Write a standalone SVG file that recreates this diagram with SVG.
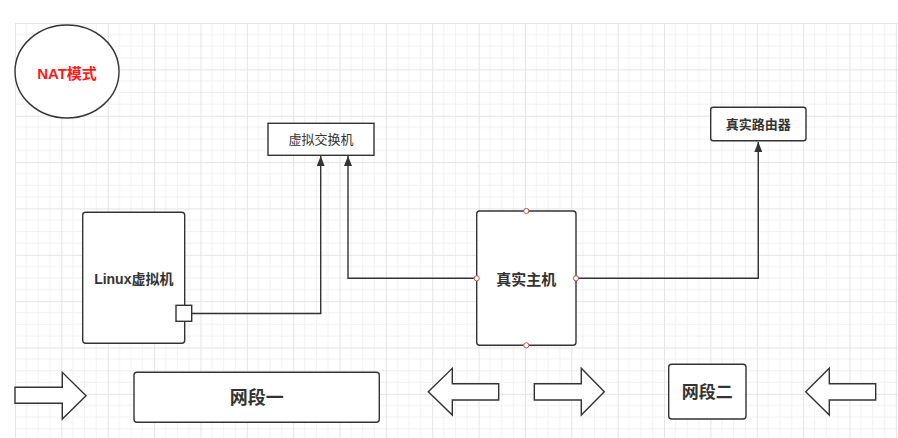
<svg xmlns="http://www.w3.org/2000/svg" width="898" height="438" viewBox="0 0 898 438">
<style>
.box{fill:#fff;stroke:#333;stroke-width:1.4}
.edge{fill:none;stroke:#333;stroke-width:1.4}
.big{fill:#fff;stroke:#333;stroke-width:1.4;stroke-linejoin:miter}
.t{font-family:"Liberation Sans","Noto Sans CJK SC",sans-serif;fill:#333;text-anchor:middle;dominant-baseline:central}
.port{fill:#fff;stroke:#b85450;stroke-width:1}
</style>
<defs>
<pattern id="grid" patternUnits="userSpaceOnUse" x="15" y="23" width="46.36" height="46.36">
<path d="M11.59 0V46.36M23.18 0V46.36M34.77 0V46.36M0 11.59H46.36M0 23.18H46.36M0 34.77H46.36" stroke="#f1f1f1" stroke-width="1" fill="none"/>
<path d="M0.5 0V46.36M0 0.5H46.36" stroke="#e4e4e4" stroke-width="1" fill="none"/>
</pattern>
<marker id="arr" markerUnits="userSpaceOnUse" markerWidth="10" markerHeight="8" refX="10" refY="4" orient="auto">
<path d="M0 0L10 4L0 8z" fill="#333"/>
</marker>
</defs>
<rect x="0" y="0" width="898" height="438" fill="#fff"/>
<rect x="15" y="23" width="883" height="415" fill="url(#grid)"/>

<g id="connectors">
<path class="edge" d="M192 313.5H320.7V156" marker-end="url(#arr)"/>
<path class="edge" d="M476.7 278.3H348V156" marker-end="url(#arr)"/>
<path class="edge" d="M576 278.3H758.3V142" marker-end="url(#arr)"/>
</g>

<g id="nat">
<ellipse cx="67" cy="71.5" rx="52" ry="46.5" fill="#fff" stroke="#333" stroke-width="1.4"/>
<text class="t" x="67" y="73" font-size="15" font-weight="bold" style="fill:#ff1a1a">NAT模式</text>
</g>

<g id="vswitch">
<rect class="box" x="268" y="123.3" width="106" height="32"/>
<text class="t" x="321" y="139.5" font-size="13">虚拟交换机</text>
</g>

<g id="router">
<rect class="box" x="710.7" y="107.3" width="95.3" height="33.4" rx="2.5"/>
<text class="t" x="758.3" y="124.5" font-size="13" font-weight="bold">真实路由器</text>
</g>

<g id="linuxvm">
<rect class="box" x="82.7" y="212.3" width="102" height="131" rx="3"/>
<text class="t" x="133.8" y="279" font-size="14" font-weight="bold">Linux虚拟机</text>
<rect class="box" x="176" y="305.3" width="15.7" height="16"/>
</g>

<g id="host">
<rect class="box" x="476.7" y="211" width="99.3" height="134.3" rx="3"/>
<text class="t" x="526.3" y="279" font-size="15" font-weight="bold">真实主机</text>
<circle class="port" cx="526.3" cy="211" r="2.6"/>
<circle class="port" cx="526.3" cy="345.3" r="2.6"/>
<circle class="port" cx="476.7" cy="278.3" r="2.6"/>
<circle class="port" cx="576" cy="278.3" r="2.6"/>
</g>

<g id="seg1">
<rect class="box" x="134" y="372.3" width="245.3" height="50" rx="3"/>
<text class="t" x="256.7" y="397.5" font-size="18" font-weight="bold">网段一</text>
</g>

<g id="seg2">
<rect class="box" x="668.7" y="364.3" width="77.3" height="54.7" rx="3"/>
<text class="t" x="707.3" y="392" font-size="17" font-weight="bold">网段二</text>
</g>

<g id="arrow1">
<path class="big" d="M15 387.3H62.3V372.3L86 395.7L62.3 419V403.3H15Z"/>
</g>
<g id="arrow2">
<path class="big" d="M498.7 383.7H452.3V368.3L428.3 391.7L452.3 415V400H498.7Z"/>
</g>
<g id="arrow3">
<path class="big" d="M534.3 383.7H581.3V368.3L604.3 391.7L581.3 415V400H534.3Z"/>
</g>
<g id="arrow4">
<path class="big" d="M875.7 383.7H829.3V368.3L805.7 391.7L829.3 415V400H875.7Z"/>
</g>
</svg>
